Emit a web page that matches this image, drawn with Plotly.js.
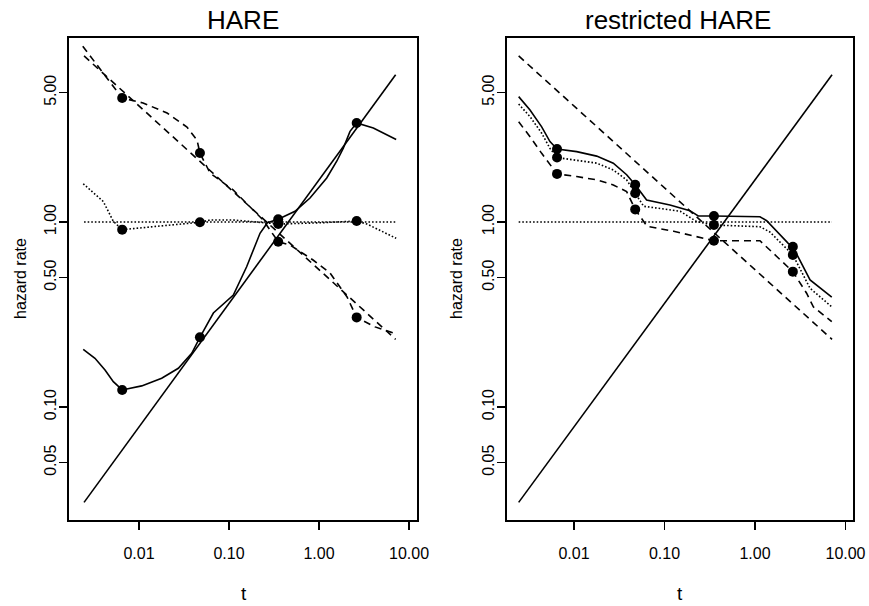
<!DOCTYPE html>
<html><head><meta charset="utf-8">
<script src="https://cdn.plot.ly/plotly-3.0.1.min.js"></script>
<style>html,body{margin:0;padding:0;background:#fff}#chart{width:869px;height:606px}</style>
</head><body><div id="chart"></div>
<script>
// ---- data (t = time, h = hazard rate) ----
var tTrue = [0.00245, 7.1];
var hTrueInc = [0.0305, 6.25];
var hTrueConst = [1.0, 1.0];
var hTrueDec = [7.9, 0.232];

var knotT = [0.0065, 0.0475, 0.352, 2.62];

// HARE (left panel)
var incEstL_t = [0.0024, 0.00324, 0.00419, 0.00518, 0.0065, 0.01071, 0.01786, 0.02735, 0.0385, 0.0475, 0.067, 0.1117, 0.157, 0.221, 0.267, 0.352, 0.541, 0.794, 1.218, 1.574, 1.862, 2.21, 2.62, 4.01, 7.2];
var incEstL_h = [0.205, 0.1834, 0.1585, 0.1371, 0.1236, 0.130, 0.1429, 0.1619, 0.195, 0.238, 0.322, 0.403, 0.573, 0.869, 0.991, 1.034, 1.143, 1.348, 1.729, 2.13, 2.51, 3.09, 3.43, 3.22, 2.79];
var incKnotL_h = [0.1236, 0.238, 1.034, 3.43];

var constEstL_t = [0.0024, 0.00401, 0.00518, 0.0065, 0.0171, 0.0475, 0.0615, 0.111, 0.264, 0.352, 1.03, 2.62, 3.41, 5.14, 7.2];
var constEstL_h = [1.61, 1.29, 1.009, 0.909, 0.951, 0.996, 1.025, 1.025, 0.988, 0.975, 0.99, 1.012, 0.975, 0.886, 0.816];
var constKnotL_h = [0.909, 0.996, 0.975, 1.012];

var decEstL_t = [0.00237, 0.00324, 0.00476, 0.0065, 0.0111, 0.0205, 0.0341, 0.0441, 0.0475, 0.0615, 0.111, 0.185, 0.239, 0.352, 0.476, 0.858, 1.325, 2.05, 2.62, 4.19, 7.2];
var decEstL_h = [8.91, 7.33, 5.71, 4.68, 4.40, 3.88, 3.26, 2.77, 2.36, 1.84, 1.49, 1.16, 1.025, 0.782, 0.751, 0.623, 0.530, 0.393, 0.305, 0.271, 0.248];
var decKnotL_h = [4.68, 2.36, 0.782, 0.305];

// restricted HARE (right panel)
var solidEstR_t = [0.00245, 0.00327, 0.0044, 0.00543, 0.0065, 0.01072, 0.01782, 0.0272, 0.0382, 0.0475, 0.0635, 0.115, 0.191, 0.236, 0.352, 1.135, 1.346, 2.33, 2.62, 4.06, 7.05];
var solidEstR_h = [4.76, 4.03, 3.27, 2.72, 2.48, 2.40, 2.27, 2.08, 1.80, 1.59, 1.315, 1.236, 1.151, 1.078, 1.078, 1.068, 1.016, 0.767, 0.735, 0.486, 0.392];
var solidKnotR_h = [2.48, 1.59, 1.078, 0.735];

var dotEstR_t = [0.00245, 0.00327, 0.0044, 0.00543, 0.0065, 0.01072, 0.01782, 0.0272, 0.0382, 0.0475, 0.0589, 0.1496, 0.227, 0.352, 1.135, 1.46, 2.62, 4.06, 7.05];
var dotEstR_h = [4.34, 3.71, 3.02, 2.50, 2.23, 2.16, 2.08, 1.91, 1.69, 1.43, 1.216, 1.142, 1.004, 0.963, 0.943, 0.883, 0.664, 0.438, 0.348];
var dotKnotR_h = [2.23, 1.43, 0.963, 0.664];

var dashEstR_t = [0.00245, 0.00327, 0.0044, 0.00543, 0.0065, 0.01072, 0.01782, 0.0272, 0.0382, 0.0475, 0.0641, 0.1265, 0.352, 1.135, 2.62, 3.72, 4.41, 7.05];
var dashEstR_h = [3.48, 2.89, 2.35, 2.03, 1.82, 1.76, 1.69, 1.585, 1.46, 1.17, 0.948, 0.891, 0.792, 0.792, 0.539, 0.412, 0.348, 0.289];
var dashKnotR_h = [1.82, 1.17, 0.792, 0.539];

var xTickVals = [0.01, 0.1, 1, 10];
var xTickText = ["0.01", "0.10", "1.00", "10.00"];
var yTickVals = [0.05, 0.1, 0.5, 1, 5];
var yTickText = ["0.05", "0.10", "0.50", "1.00", "5.00"];

// ---- styling ----
var FONT = "Liberation Sans, Arial, Helvetica, sans-serif";
var LW = 1.6;
var DASH = "7px,5px";
var DOT = "1.6px,2px";

function line(x, y, dash, ax) {
  return {x: x, y: y, type: "scatter", mode: "lines", xaxis: ax[0], yaxis: ax[1],
    line: {color: "#000", width: LW, dash: dash}, hoverinfo: "skip", showlegend: false};
}
function knots(x, y, ax) {
  return {x: x, y: y, type: "scatter", mode: "markers", xaxis: ax[0], yaxis: ax[1],
    marker: {color: "#000", size: 10, symbol: "circle"}, hoverinfo: "skip", showlegend: false};
}
var L = ["x", "y"], R = ["x2", "y2"];

var traces = [
  line(tTrue, hTrueInc, "solid", L),
  line(tTrue, hTrueConst, DOT, L),
  line(tTrue, hTrueDec, DASH, L),
  line(incEstL_t, incEstL_h, "solid", L),
  line(constEstL_t, constEstL_h, DOT, L),
  line(decEstL_t, decEstL_h, DASH, L),
  knots(knotT, incKnotL_h, L),
  knots(knotT, constKnotL_h, L),
  knots(knotT, decKnotL_h, L),

  line(tTrue, hTrueInc, "solid", R),
  line(tTrue, hTrueConst, DOT, R),
  line(tTrue, hTrueDec, DASH, R),
  line(solidEstR_t, solidEstR_h, "solid", R),
  line(dotEstR_t, dotEstR_h, DOT, R),
  line(dashEstR_t, dashEstR_h, DASH, R),
  knots(knotT, solidKnotR_h, R),
  knots(knotT, dotKnotR_h, R),
  knots(knotT, dashKnotR_h, R)
];

function xax(domain, range, anchor) {
  return {type: "log", domain: domain, range: range, anchor: anchor,
    tickmode: "array", tickvals: xTickVals, ticktext: xTickText,
    ticks: "outside", ticklen: 8, tickwidth: 1.2, tickcolor: "#000",
    ticklabelstandoff: 10,
    showline: true, mirror: true, linecolor: "#000", linewidth: 1.5,
    showgrid: false, zeroline: false,
    tickfont: {family: FONT, size: 16, color: "#000"}};
}
function yax(range, anchor) {
  return {type: "log", domain: [0.1419, 0.9373], range: range, anchor: anchor,
    tickmode: "array", tickvals: yTickVals, ticktext: yTickText, tickangle: -90,
    ticks: "outside", ticklen: 8, tickwidth: 1.2, tickcolor: "#000",
    ticklabelstandoff: -3,
    showline: true, mirror: true, linecolor: "#000", linewidth: 1.5,
    showgrid: false, zeroline: false,
    tickfont: {family: FONT, size: 16, color: "#000"}};
}

var layout = {
  width: 869, height: 606,
  margin: {l: 0, r: 0, t: 0, b: 0},
  paper_bgcolor: "#fff", plot_bgcolor: "#fff",
  font: {family: FONT, color: "#000"},
  showlegend: false,
  xaxis: xax([0.0794, 0.4799], [-2.778, 1.089], "y"),
  yaxis: yax([-1.611, 0.9946], "x"),
  xaxis2: xax([0.5834, 0.9816], [-2.740, 1.083], "y2"),
  yaxis2: yax([-1.611, 0.9946], "x2"),
  annotations: [
    {text: "HARE", xref: "paper", yref: "paper", x: 243/869, y: 1 - 20/606, xanchor: "center", yanchor: "middle", showarrow: false, font: {family: FONT, size: 26, color: "#000"}},
    {text: "restricted HARE", xref: "paper", yref: "paper", x: 678/869, y: 1 - 20/606, xanchor: "center", yanchor: "middle", showarrow: false, font: {family: FONT, size: 26, color: "#000"}},
    {text: "t", xref: "paper", yref: "paper", x: 244/869, y: 1 - 593/606, xanchor: "center", yanchor: "middle", showarrow: false, font: {family: FONT, size: 19, color: "#000"}},
    {text: "t", xref: "paper", yref: "paper", x: 680/869, y: 1 - 593/606, xanchor: "center", yanchor: "middle", showarrow: false, font: {family: FONT, size: 19, color: "#000"}},
    {text: "hazard rate", textangle: -90, xref: "paper", yref: "paper", x: 20/869, y: 1 - 279/606, xanchor: "center", yanchor: "middle", showarrow: false, font: {family: FONT, size: 16, color: "#000"}},
    {text: "hazard rate", textangle: -90, xref: "paper", yref: "paper", x: 456/869, y: 1 - 279/606, xanchor: "center", yanchor: "middle", showarrow: false, font: {family: FONT, size: 16, color: "#000"}}
  ]
};

Plotly.newPlot("chart", traces, layout, {displayModeBar: false, staticPlot: true});
</script></body></html>
